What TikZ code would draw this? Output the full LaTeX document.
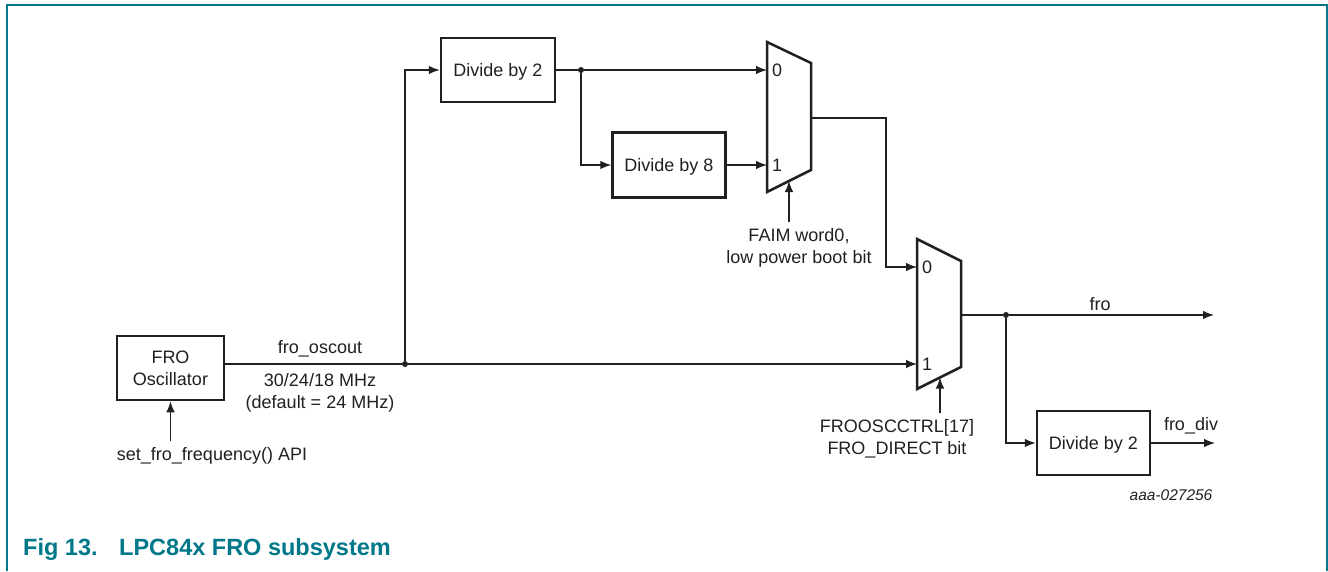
\documentclass[tikz,border=0pt]{standalone}
\usepackage{fontspec}
\setmainfont{Liberation Sans}
\usetikzlibrary{arrows.meta,positioning}
\definecolor{nxpteal}{RGB}{0,120,138}
\definecolor{ink}{RGB}{35,31,32}
\tikzset{
    blk/.style={draw=ink, line width=2.5pt, minimum width=113pt, minimum height=64pt,
        inner sep=0pt, text=ink, align=center, font=\fontsize{18}{22}\selectfont},
    wire/.style={draw=ink, line width=1.2pt},
    sig/.style={wire, -{Latex[length=11pt,width=8.5pt]}},
    lbl/.style={inner sep=0pt, text=ink, align=center, font=\fontsize{18}{22}\selectfont},
    junc/.style={circle, fill=ink, inner sep=0pt, minimum size=6pt},
    muxline/.style={draw=ink, line width=2.5pt, line join=miter}
}
\begin{document}
\begin{tikzpicture}[x=1pt, y=-1pt]
    \useasboundingbox (0,0) rectangle (1328,571);
    % frame
    \draw[nxpteal, line width=2pt] (6.5,571) -- (6.5,4.5) -- (1326.5,4.5) -- (1326.5,571);

    % blocks
    \node[blk, minimum width=107pt] (osc) at (170.5,368) {FRO\\Oscillator};
    \node[blk, minimum width=114pt, text depth=0pt] (divA) at (498,70) {Divide by 2};
    \node[blk, minimum height=65pt, text depth=0pt] (divE) at (669,165) {Divide by 8};
    \node[blk, text depth=0pt] (divB) at (1093.5,443) {Divide by 2};

    % multiplexers
    \draw[muxline] (767,42) -- (811,63) -- (811,170) -- (767,192) -- cycle;
    \coordinate (muxAin0) at (767,70);
    \coordinate (muxAin1) at (767,165);
    \coordinate (muxAout) at (811,118);
    \coordinate (muxAsel) at (789,181);
    \node[lbl, anchor=west] (muxAzero) at (772,70) {0};
    \node[lbl, anchor=west] (muxAone) at (772,165) {1};

    \draw[muxline] (917,239) -- (961,261) -- (961,367) -- (917,389) -- cycle;
    \coordinate (muxBin0) at (917,267);
    \coordinate (muxBin1) at (917,364);
    \coordinate (muxBout) at (961,315);
    \coordinate (muxBsel) at (940,377.5);
    \node[lbl, anchor=west] (muxBzero) at (922,267) {0};
    \node[lbl, anchor=west] (muxBone) at (922,364) {1};

    % junctions
    \node[junc] (jOsc) at (405,364) {};
    \node[junc] (jDiv) at (581,70) {};
    \node[junc] (jFro) at (1006,315) {};
    \coordinate (froEnd) at (1214,315);
    \coordinate (divEnd) at (1215,443);

    % labels
    \node[lbl] (oscout) at (320,349) {fro\_oscout};
    \node[lbl] (freq) at (320,393) {30/24/18 MHz\\(default = 24 MHz)};
    \node[lbl] (api) at (212,456) {set\_fro\_frequency() API};
    \node[lbl] (faim) at (799,248) {FAIM word0,\\low power boot bit};
    \node[lbl] (ctrl) at (897,439) {FROOSCCTRL[17]\\FRO\_DIRECT bit};
    \node[lbl] (fro) at (1100,304) {fro};
    \node[lbl] (frodiv) at (1191,426) {fro\_div};
    \node[lbl, font=\fontsize{15.5}{18}\selectfont\itshape] (figid) at (1171,495) {aaa-027256};
    \node[anchor=west, inner sep=0pt, text=nxpteal, font=\fontsize{23.5}{28}\selectfont\bfseries] (fignum) at (23,549) {Fig 13.};
    \node[anchor=west, inner sep=0pt, text=nxpteal, font=\fontsize{23.5}{28}\selectfont\bfseries] (figtitle) at (119,549) {LPC84x FRO subsystem};

    % arrows
    \draw[wire] (osc.east |- jOsc) -- (jOsc);
    \draw[sig] (jOsc) -- (muxBin1);
    \draw[sig] (jOsc) |- (divA.west);
    \draw[wire] (divA.east) -- (jDiv);
    \draw[sig] (jDiv) -- (muxAin0);
    \draw[sig] (jDiv) |- (divE.west);
    \draw[sig] (divE.east) -- (muxAin1);
    \draw[sig] (muxAout) -| (886,267) -- (muxBin0);
    \draw[wire] (muxBout) -- (jFro);
    \draw[sig] (jFro) -- (froEnd);
    \draw[sig] (jFro) |- (divB.west);
    \draw[sig] (divB.east) -- (divEnd);
    \draw[sig] (osc.south |- api.north) ++(0,-6) -- (osc.south);
    \draw[sig] (muxAsel |- faim.north) ++(0,-6) -- (muxAsel);
    \draw[sig] (muxBsel |- ctrl.north) ++(0,-6) -- (muxBsel);
\end{tikzpicture}
\end{document}
